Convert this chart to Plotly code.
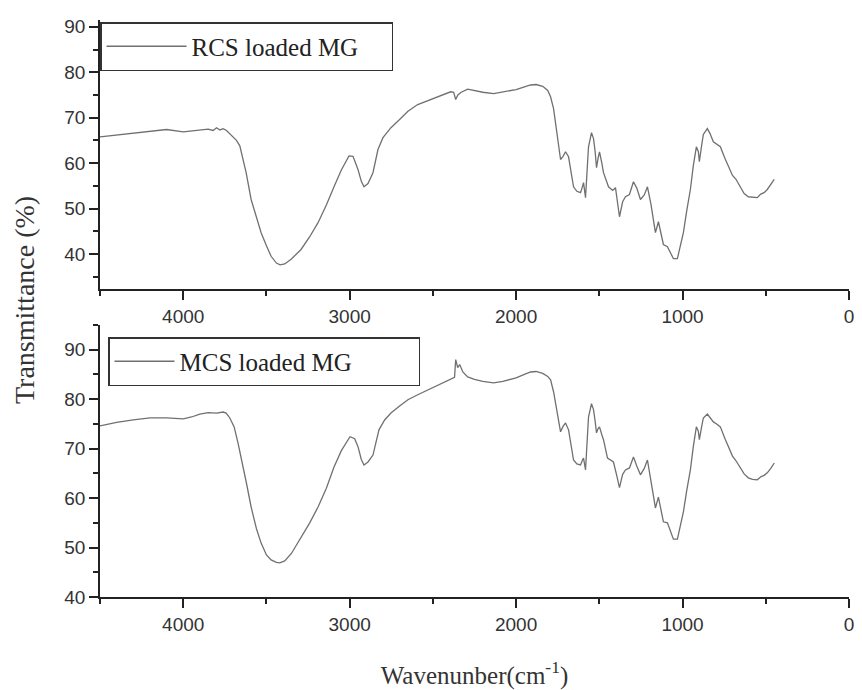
import plotly.graph_objects as go

# ---- data ----
rcs_wavenumber = [4500, 4400, 4300, 4200, 4100, 4000, 3950, 3900, 3850, 3820, 3800, 3780, 3760, 3740, 3720,
                  3700, 3680, 3660, 3640, 3622, 3592, 3560, 3532, 3500, 3472, 3440, 3418, 3390, 3350, 3292,
                  3240, 3190, 3140, 3094, 3050, 3004, 2980, 2950, 2930, 2914, 2890, 2860, 2830, 2800, 2752,
                  2700, 2650, 2591, 2500, 2430, 2393, 2375, 2363, 2350, 2330, 2291, 2250, 2200, 2135, 2080,
                  2000, 1950, 1913, 1880, 1840, 1810, 1793, 1775, 1763, 1745, 1733, 1718, 1703, 1685, 1670,
                  1655, 1635, 1613, 1600, 1595, 1583, 1575, 1565, 1547, 1535, 1525, 1517, 1508, 1499, 1485,
                  1475, 1445, 1420, 1403, 1390, 1379, 1360, 1343, 1319, 1295, 1275, 1253, 1230, 1211, 1190,
                  1163, 1145, 1130, 1115, 1091, 1070, 1055, 1031, 1015, 995, 975, 953, 935, 917, 905,
                  899, 885, 875, 851, 835, 815, 795, 773, 745, 713, 700, 680, 653, 630, 605,
                  580, 551, 530, 510, 491, 470, 449]
rcs_transmittance = [65.8, 66.2, 66.6, 67.1, 67.4, 66.9, 67.1, 67.4, 67.5, 67.2, 67.8, 67.3, 67.6, 67.2, 66.4,
                     65.6, 65.0, 63.8, 61.0, 57.9, 52.0, 47.8, 44.7, 41.8, 39.5, 38.0, 37.6, 37.8, 38.9, 41.0,
                     43.8, 46.9, 50.8, 54.8, 58.5, 61.6, 61.5, 58.6, 56.0, 54.8, 55.5, 57.9, 63.0, 65.6, 67.8,
                     69.6, 71.4, 72.9, 74.2, 75.2, 75.7, 75.6, 74.0, 75.0, 75.6, 76.3, 76.0, 75.6, 75.3, 75.7,
                     76.2, 76.8, 77.2, 77.3, 76.9, 76.0, 74.6, 72.0, 68.9, 63.5, 60.8, 61.5, 62.5, 61.4, 58.0,
                     54.8, 53.8, 53.5, 55.0, 55.7, 52.4, 57.0, 63.6, 66.7, 65.4, 62.5, 59.0, 61.0, 62.5, 60.0,
                     57.9, 54.8, 54.0, 54.6, 51.5, 48.2, 51.5, 52.6, 53.1, 55.9, 54.5, 52.0, 53.0, 54.8, 51.0,
                     44.7, 47.1, 44.5, 42.1, 41.6, 40.0, 39.0, 39.0, 41.5, 44.7, 49.5, 54.2, 59.5, 63.6, 62.5,
                     60.3, 64.0, 66.3, 67.6, 66.5, 64.7, 64.2, 63.6, 61.0, 58.6, 57.3, 56.5, 54.6, 53.3, 52.6,
                     52.5, 52.4, 53.2, 53.5, 54.2, 55.3, 56.4]

mcs_wavenumber = [4500, 4400, 4300, 4200, 4100, 4000, 3950, 3900, 3850, 3800, 3760, 3742, 3720, 3700, 3694,
                  3670, 3652, 3620, 3592, 3560, 3532, 3500, 3472, 3440, 3420, 3390, 3350, 3292, 3240, 3190,
                  3140, 3094, 3050, 2998, 2970, 2950, 2930, 2914, 2890, 2860, 2824, 2790, 2752, 2700, 2650,
                  2591, 2500, 2430, 2393, 2370, 2363, 2351, 2339, 2320, 2291, 2250, 2200, 2135, 2080, 2000,
                  1950, 1913, 1880, 1840, 1810, 1793, 1775, 1763, 1745, 1733, 1718, 1703, 1685, 1670, 1655,
                  1635, 1613, 1600, 1595, 1583, 1575, 1565, 1547, 1535, 1525, 1517, 1508, 1499, 1485, 1475,
                  1451, 1430, 1415, 1395, 1379, 1360, 1343, 1319, 1295, 1275, 1253, 1230, 1211, 1190, 1163,
                  1145, 1130, 1115, 1091, 1070, 1055, 1031, 1015, 995, 975, 953, 935, 917, 905, 899,
                  885, 875, 851, 835, 815, 795, 773, 745, 713, 700, 680, 653, 630, 605, 580,
                  551, 530, 510, 491, 470, 449]
mcs_transmittance = [74.6, 75.3, 75.8, 76.2, 76.2, 76.0, 76.4, 77.0, 77.3, 77.2, 77.4, 77.2, 76.2, 74.8, 74.4,
                     71.0, 68.3, 63.0, 58.2, 53.8, 50.9, 48.5, 47.5, 47.0, 46.9, 47.3, 48.8, 52.1, 55.0, 58.2,
                     62.0, 66.3, 69.6, 72.4, 72.0, 70.4, 67.8, 66.7, 67.3, 68.7, 73.8, 75.8, 77.2, 78.6, 79.9,
                     80.9, 82.3, 83.4, 83.9, 84.4, 88.0, 86.4, 87.0, 85.5, 84.5, 84.0, 83.6, 83.3, 83.6, 84.3,
                     85.0, 85.5, 85.6, 85.2, 84.6, 83.9, 81.5, 79.3, 75.5, 73.4, 74.5, 75.2, 73.8, 70.5, 67.7,
                     66.9, 66.7, 67.8, 68.1, 65.7, 70.0, 76.4, 79.1, 77.9, 75.5, 73.2, 74.0, 74.4, 72.8, 71.8,
                     68.1, 67.6, 67.3, 64.5, 62.1, 64.8, 65.7, 66.1, 68.3, 66.5, 64.7, 66.0, 67.7, 63.5, 58.0,
                     60.2, 57.5, 55.2, 55.0, 53.0, 51.7, 51.7, 54.0, 57.2, 61.5, 65.7, 70.5, 74.4, 73.5, 71.8,
                     74.5, 76.2, 77.0, 76.3, 75.4, 75.0, 74.4, 72.0, 69.4, 68.5, 67.6, 66.1, 64.9, 64.1, 63.8,
                     63.7, 64.3, 64.6, 65.1, 66.0, 67.1]

series_names = ["RCS loaded MG", "MCS loaded MG"]
x_tick_values = [0, 1000, 2000, 3000, 4000]
y_tick_values = [40, 50, 60, 70, 80, 90]

# ---- figure ----
W, H = 862, 690
line_color = "#707070"
axis_color = "#222222"
tick_font = dict(family="Liberation Sans, Arial", size=19, color="#333333")
serif = "Liberation Serif, Times New Roman"

fig = go.Figure()
fig.add_trace(go.Scatter(x=rcs_wavenumber, y=rcs_transmittance, mode="lines", name=series_names[0],
                         line=dict(color=line_color, width=1.3), xaxis="x", yaxis="y", legend="legend"))
fig.add_trace(go.Scatter(x=mcs_wavenumber, y=mcs_transmittance, mode="lines", name=series_names[1],
                         line=dict(color=line_color, width=1.3), xaxis="x2", yaxis="y2", legend="legend2"))

x_dom = [100 / W, 849 / W]
common_x = dict(range=[4500, 0], tickmode="array", tickvals=x_tick_values, ticks="outside", ticklen=9,
                tickwidth=1.5, tickcolor=axis_color, showline=True, linecolor=axis_color, linewidth=1.5,
                showgrid=False, zeroline=False, tickfont=tick_font, domain=x_dom,
                minor=dict(dtick=500, tick0=0, ticks="outside", ticklen=5, tickwidth=1.5, tickcolor=axis_color),
                automargin=False)
common_y = dict(tickmode="array", tickvals=y_tick_values, ticks="outside", ticklen=9, tickwidth=1.5,
                tickcolor=axis_color, showline=True, linecolor=axis_color, linewidth=1.5, showgrid=False,
                zeroline=False, tickfont=tick_font,
                minor=dict(dtick=5, tick0=0, ticks="outside", ticklen=5, tickwidth=1.5, tickcolor=axis_color),
                automargin=False)

legend_common = dict(xanchor="left", yanchor="top", bgcolor="white", bordercolor="#333333", borderwidth=1.5,
                     font=dict(family=serif, size=25, color="#222222"), orientation="h")

fig.update_layout(
    width=W, height=H, margin=dict(l=0, r=0, t=0, b=0),
    paper_bgcolor="white", plot_bgcolor="white",
    xaxis=dict(common_x, anchor="y"),
    yaxis=dict(common_y, range=[32.3, 91.5], domain=[1 - 289 / H, 1 - 20 / H], anchor="x"),
    xaxis2=dict(common_x, anchor="y2",
                title=dict(text="Wavenunber(cm<sup>-1</sup>)", font=dict(family=serif, size=25, color="#333333"),
                           standoff=33)),
    yaxis2=dict(common_y, range=[40, 95], domain=[1 - 597 / H, 1 - 325 / H], anchor="x2"),
    legend=dict(legend_common, x=100 / W, y=1 - 22 / H, itemwidth=80, entrywidth=195),
    legend2=dict(legend_common, x=108 / W, y=1 - 337 / H, itemwidth=60, entrywidth=234),
    annotations=[dict(text="Transmittance (%)", x=25 / W, y=1 - 300 / H, xref="paper", yref="paper",
                      xanchor="center", yanchor="middle", textangle=-90, showarrow=False,
                      font=dict(family=serif, size=28, color="#333333"))],
    showlegend=True,
)

fig.write_html("out.html")
